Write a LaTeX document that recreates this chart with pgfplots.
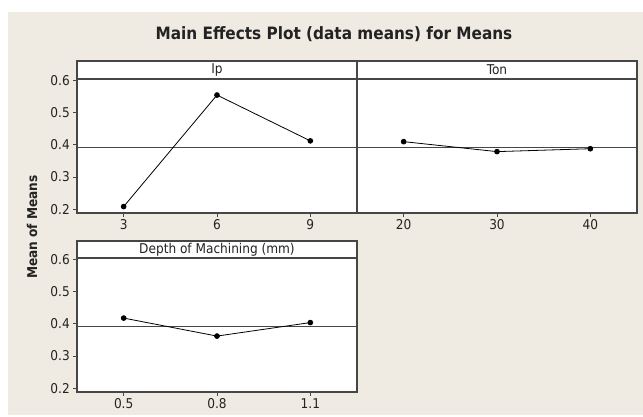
\documentclass[border=0pt]{standalone}
\usepackage{pgfplots}
\pgfplotsset{compat=1.18}
\usepackage{fontspec}
\IfFontExistsTF{DejaVu Sans Condensed}{\setmainfont{DejaVu Sans Condensed}}{\setmainfont{DejaVu Sans}}
\definecolor{bg}{RGB}{239,235,226}
\definecolor{fr}{RGB}{70,70,70}
\definecolor{tx}{RGB}{35,35,35}
\pgfplotsset{
 panel/.style={
  scale only axis, width=280pt, height=134pt,
  anchor=south west,
  ymin=0.188, ymax=0.605,
  axis background/.style={fill=white},
  axis line style={fr, line width=1.1pt},
  tick align=outside, major tick length=4pt,
  tick style={fr, line width=0.9pt},
  xtick pos=bottom, ytick pos=left,
  ytick={0.2,0.3,0.4,0.5,0.6},
  yticklabels={0.2,0.3,0.4,0.5,0.6},
  /pgf/number format/assume math mode=true,
  ticklabel style={font=\fontsize{13.5}{14}\selectfont, text=tx},
  xticklabel style={inner sep=2pt},
  yticklabel style={inner sep=3pt},
  clip=false,
 },
 refl/.style={fr, line width=0.9pt},
 dat/.style={black, line width=0.8pt, mark=*, mark size=2.4pt, mark options={fill=black}},
}
\begin{document}
\begin{tikzpicture}[x=1pt,y=1pt]
\fill[white] (0pt,0pt) rectangle (643pt,417pt);
\fill[bg] (8pt,2pt) rectangle (643pt,405pt);
% Ip
\begin{axis}[panel, at={(77pt,204pt)}, xmin=1.5, xmax=10.5, xtick={3,6,9}, xticklabels={3,6,9}]
\addplot[refl] coordinates {(1.5,0.393) (10.5,0.393)};
\addplot[dat] coordinates {(3,0.208) (6,0.555) (9,0.4125)};
\end{axis}
% Ton
\begin{axis}[panel, at={(357pt,204pt)}, xmin=15, xmax=45, xtick={20,30,40}, xticklabels={20,30,40}, ytick=\empty, yticklabels={}]
\addplot[refl] coordinates {(15,0.393) (45,0.393)};
\addplot[dat] coordinates {(20,0.410) (30,0.379) (40,0.388)};
\end{axis}
% Depth
\begin{axis}[panel, at={(77pt,25pt)}, xmin=0.35, xmax=1.25, xtick={0.5,0.8,1.1}, xticklabels={0.5,0.8,1.1}]
\addplot[refl] coordinates {(0.35,0.393) (1.25,0.393)};
\addplot[dat] coordinates {(0.5,0.418) (0.8,0.362) (1.1,0.404)};
\end{axis}
% panel headers
\begin{scope}[fr, line width=1.1pt]
\draw[fill=white] (77pt,338pt) rectangle (357pt,356pt);
\draw[fill=white] (357pt,338pt) rectangle (637pt,356pt);
\draw[fill=white] (77pt,159pt) rectangle (357pt,176pt);
\end{scope}
\node[text=tx, font=\fontsize{13.5}{14}\selectfont] at (217pt,347pt) {Ip};
\node[text=tx, font=\fontsize{13.5}{14}\selectfont] at (497pt,347pt) {Ton};
\node[text=tx, font=\fontsize{13.5}{14}\selectfont] at (217pt,167.5pt) {Depth of Machining (mm)};
% title and y label
\node[anchor=base, text=tx, font=\bfseries\fontsize{17}{18}\selectfont] at (334pt,377pt) {Main Effects Plot (data means) for Means};
\node[rotate=90, text=tx, font=\bfseries\fontsize{13.5}{14}\selectfont] at (32pt,190pt) {Mean of Means};
\end{tikzpicture}
\end{document}
